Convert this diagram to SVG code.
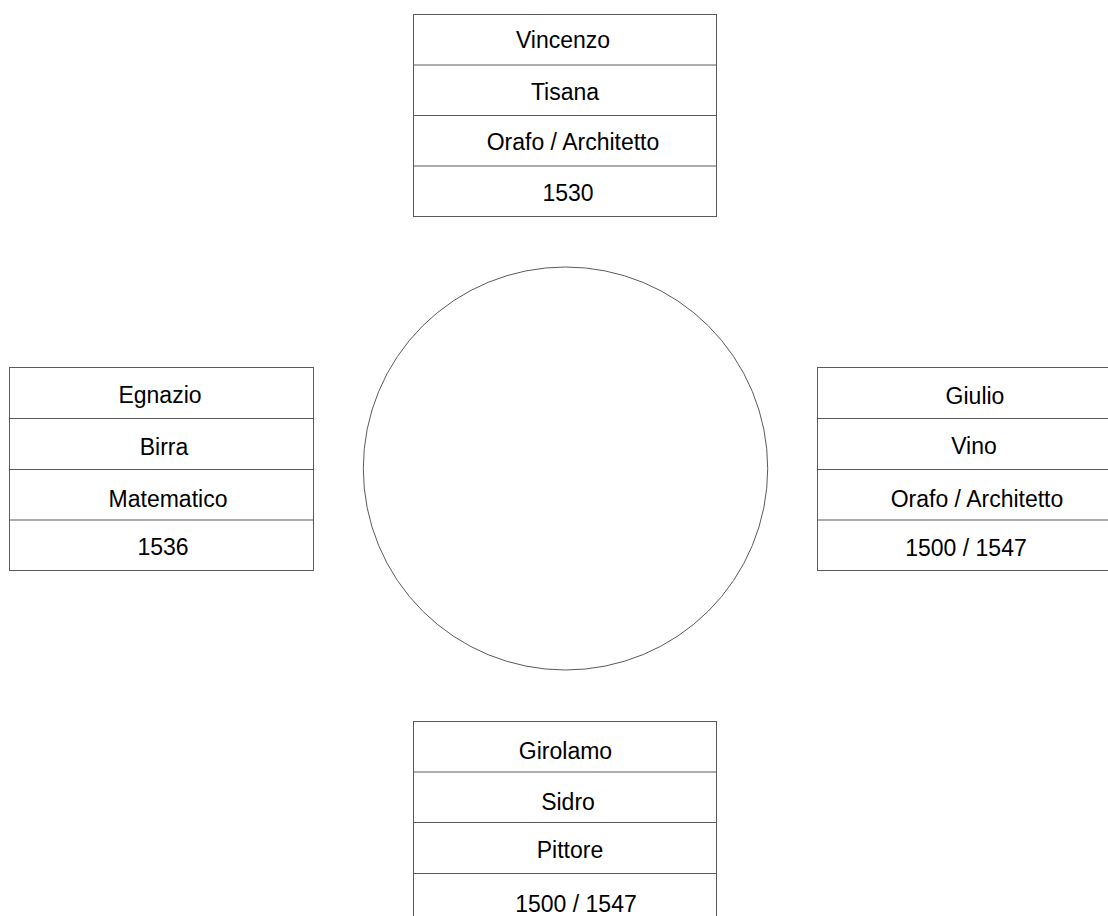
<svg xmlns="http://www.w3.org/2000/svg" width="1108" height="916" viewBox="0 0 1108 916">
<style>
.box{fill:#ffffff;stroke:#5a5a5a;stroke-width:1}
.sep{stroke:#5a5a5a;stroke-width:1}
.t{font-family:"Liberation Sans",Arial,sans-serif;font-size:23px;fill:#000000;text-anchor:middle}
.circ{fill:#ffffff;stroke:#5a5a5a;stroke-width:1}
</style>
<rect width="1108" height="916" fill="#ffffff"/>
<g id="connectors"></g>
<g id="circle">
<ellipse class="circ" cx="565.5" cy="468.5" rx="202.2" ry="201.5"/>
</g>
<g id="vincenzo">
<rect class="box" x="413.5" y="14.5" width="303" height="202"/>
<line class="sep" x1="413.5" y1="65" x2="716.5" y2="65"/>
<line class="sep" x1="413.5" y1="115.5" x2="716.5" y2="115.5"/>
<line class="sep" x1="413.5" y1="166" x2="716.5" y2="166"/>
<text class="t" x="563" y="47.5">Vincenzo</text>
<text class="t" x="565" y="99.5">Tisana</text>
<text class="t" x="573" y="150">Orafo / Architetto</text>
<text class="t" x="568" y="201">1530</text>
</g>
<g id="egnazio">
<rect class="box" x="9.5" y="367.5" width="304" height="203"/>
<line class="sep" x1="9.5" y1="418.5" x2="313.5" y2="418.5"/>
<line class="sep" x1="9.5" y1="469.5" x2="313.5" y2="469.5"/>
<line class="sep" x1="9.5" y1="520" x2="313.5" y2="520"/>
<text class="t" x="160" y="402.5">Egnazio</text>
<text class="t" x="164" y="455">Birra</text>
<text class="t" x="168" y="507">Matematico</text>
<text class="t" x="163" y="555">1536</text>
</g>
<g id="giulio">
<rect class="box" x="817.5" y="367.5" width="304" height="203"/>
<line class="sep" x1="817.5" y1="418.5" x2="1121.5" y2="418.5"/>
<line class="sep" x1="817.5" y1="469.5" x2="1121.5" y2="469.5"/>
<line class="sep" x1="817.5" y1="520" x2="1121.5" y2="520"/>
<text class="t" x="975" y="403.5">Giulio</text>
<text class="t" x="974" y="454">Vino</text>
<text class="t" x="977" y="506.5">Orafo / Architetto</text>
<text class="t" x="966" y="556">1500 / 1547</text>
</g>
<g id="girolamo">
<rect class="box" x="413.5" y="721.5" width="303" height="204"/>
<line class="sep" x1="413.5" y1="772" x2="716.5" y2="772"/>
<line class="sep" x1="413.5" y1="822.5" x2="716.5" y2="822.5"/>
<line class="sep" x1="413.5" y1="873.5" x2="716.5" y2="873.5"/>
<text class="t" x="565.5" y="759">Girolamo</text>
<text class="t" x="568" y="810">Sidro</text>
<text class="t" x="570" y="858">Pittore</text>
<text class="t" x="576" y="911.5">1500 / 1547</text>
</g>
</svg>
